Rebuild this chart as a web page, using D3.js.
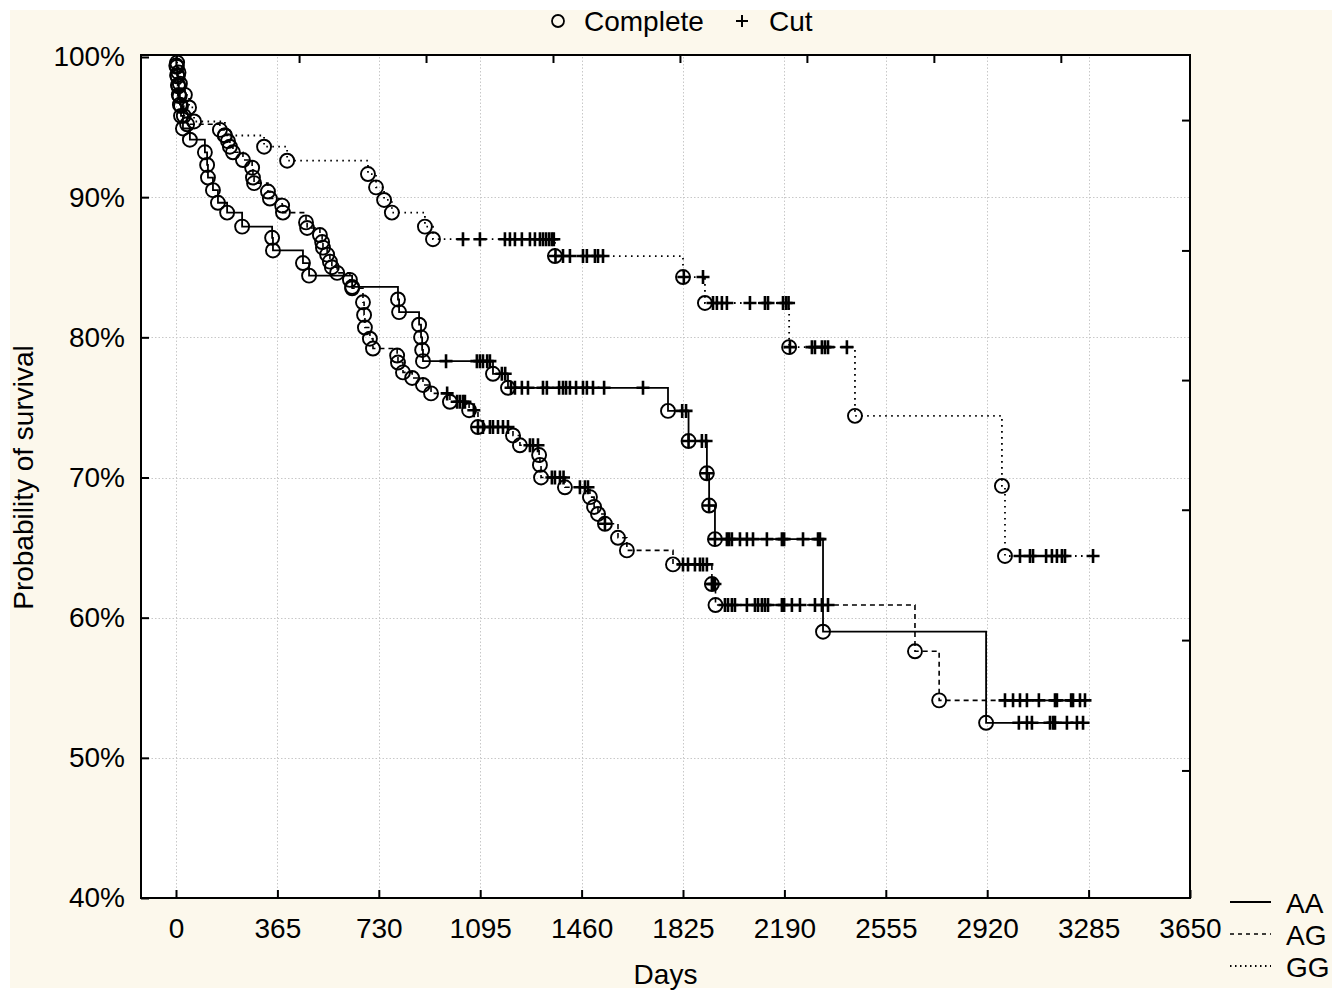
<!DOCTYPE html>
<html><head><meta charset="utf-8">
<script src="https://cdn.jsdelivr.net/npm/d3@7/dist/d3.min.js"></script>
<style>
html,body{margin:0;padding:0;background:#fff;}
text{font-family:"Liberation Sans",Arial,sans-serif;fill:#000;}
</style></head>
<body>
<svg id="chart" width="1342" height="990"></svg>
<script>
// ---------- data ----------
const seriesNames = ["AA","AG","GG"];
const xTicks = [0,365,730,1095,1460,1825,2190,2555,2920,3285,3650];
const yTicks = [40,50,60,70,80,90,100];
const topTickDays = [443,900,1357,1814,2271,2728,3185];
const rightTickPct = [95.5,86.2,76.95,67.7,58.4,49.1];

// events: [day, survival % after event]
const aaEvents = [[1,99.4],[4,98.7],[7,98.0],[10,97.3],[14,96.6],[18,95.8],[25,94.9],[50,94.1],
 [104,93.2],[112,92.3],[115,91.4],[133,90.5],[151,89.6],[184,88.9],[238,87.9],[346,87.1],[349,86.2],
 [457,85.3],[479,84.4],[634,83.6],[799,82.7],[803,81.8],[875,80.9],[882,80.0],[886,79.1],[889,78.3],
 [1141,77.4],[1195,76.4],[1771,74.75],[1845,72.6],[1911,70.3],[1919,68.0],[1940,65.6],[2329,59.0],[2916,52.5]];
const aaCensored = [972,1083,1094,1105,1120,1130,1173,1185,1206,1220,1245,1267,1321,1335,1379,1393,1404,1418,
 1440,1465,1479,1501,1541,1681,1822,1836,1845,1893,1908,1911,1919,1940,1983,1991,2001,2030,2055,2077,2127,2181,
 2189,2257,2311,2318,3034,3063,3081,3146,3157,3164,3207,3243,3265];

const agEvents = [[3,99.3],[6,98.6],[9,97.9],[13,97.2],[18,96.5],[28,95.8],[40,95.2],
 [158,94.8],[176,94.4],[187,94.0],[194,93.6],[205,93.2],[241,92.65],[274,92.1],[277,91.4],[281,91.0],
 [331,90.4],[338,89.9],[382,89.4],[385,88.9],[468,88.2],[472,87.8],[518,87.3],[526,86.8],[529,86.4],
 [544,85.9],[554,85.4],[561,85.0],[580,84.6],[626,84.1],[634,83.5],[673,82.5],[677,81.6],[680,80.7],
 [698,79.9],[709,79.2],[796,78.7],[799,78.2],[817,77.5],[850,77.1],[889,76.6],[918,76.0],
 [986,75.4],[1055,74.8],[1087,73.6],[1213,73.0],[1238,72.3],[1307,71.6],[1310,70.9],[1314,70.0],
 [1400,69.3],[1490,68.6],[1505,67.9],[1519,67.4],[1544,66.7],[1591,65.7],[1623,64.8],[1789,63.8],
 [1929,62.4],[1942,60.9],[2660,57.6],[2747,54.1]];
const agCensored = [976,1012,1022,1033,1040,1072,1087,1105,1130,1141,1159,1177,1195,1274,1285,1303,1353,1364,1382,1395,
 1454,1472,1483,1544,1825,1843,1868,1886,1897,1911,1929,1933,1940,1976,1987,2001,2012,2055,2084,2095,2109,2120,2131,
 2181,2189,2217,2246,2300,2325,2347,2984,3013,3038,3063,3106,3164,3171,3222,3229,3254,3272];

const ggEvents = [[4,99.6],[9,98.9],[14,98.1],[32,97.3],[47,96.4],[65,95.4],
 [176,94.4],[317,93.6],[400,92.6],[691,91.65],[720,90.7],[749,89.8],[777,88.9],[896,87.9],[925,87.0],
 [1364,85.8],[1825,84.3],[1904,82.45],[2207,79.3],[2444,74.4],[2973,69.4],[2984,64.4]];
const ggCensored = [1033,1094,1184,1202,1220,1245,1274,1292,1310,1321,1332,1343,1353,1360,1366,1393,1418,1465,1479,
 1508,1519,1537,1828,1897,1933,1947,1965,1983,2066,2120,2131,2185,2196,2205,2210,2289,2300,2325,2336,2347,2415,
 3038,3074,3085,3132,3153,3171,3189,3200,3301];

const legendTop = ["Complete","Cut"];
const xTitle = "Days", yTitle = "Probability of survival";

// ---------- layout ----------
const svg = d3.select("#chart");
const L = 141, R = 1190, T = 57, B = 898;
const x = d3.scaleLinear().domain([-126,3650]).range([L,R]);
const y = d3.scaleLinear().domain([40,100]).range([B,T]);
const FS = 28;

svg.append("rect").attr("x",10).attr("y",10).attr("width",1322).attr("height",978).attr("fill","#fcf8ec");
svg.append("rect").attr("x",L).attr("y",T-2).attr("width",R-L).attr("height",B-T+2).attr("fill","#fff");

// grid
const grid = svg.append("g").attr("stroke","#c8c8c8").attr("stroke-width",1).attr("stroke-dasharray","1.5,2");
grid.selectAll(".gv").data(xTicks.filter(d=>d<3650)).join("line")
  .attr("x1",d=>Math.round(x(d))+0.5).attr("x2",d=>Math.round(x(d))+0.5).attr("y1",T).attr("y2",B);
grid.selectAll(".gh").data(yTicks.filter(d=>d>40&&d<100)).join("line")
  .attr("y1",d=>Math.round(y(d))+0.5).attr("y2",d=>Math.round(y(d))+0.5).attr("x1",L).attr("x2",R);

// axes
const ax = svg.append("g").attr("transform",`translate(0,${B})`)
  .call(d3.axisBottom(x).tickValues(xTicks).tickSize(-8).tickPadding(20).tickFormat(d3.format("d")));
const ay = svg.append("g").attr("transform",`translate(${L},0)`)
  .call(d3.axisLeft(y).tickValues(yTicks).tickSize(-8).tickPadding(16).tickFormat(d=>d+"%"));
const at = svg.append("g").attr("transform",`translate(0,${T-2})`)
  .call(d3.axisTop(x).tickValues(topTickDays).tickSize(-8).tickFormat(""));
const ar = svg.append("g").attr("transform",`translate(${R},0)`)
  .call(d3.axisRight(y).tickValues(rightTickPct).tickSize(-8).tickFormat(""));
[ax,ay,at,ar].forEach(g=>{
  g.select(".domain").remove();
  g.selectAll(".tick line").attr("stroke","#000").attr("stroke-width",2);
  g.selectAll("text").attr("font-size",FS).attr("font-family","Liberation Sans, Arial, sans-serif").attr("fill","#000");
});
svg.append("rect").attr("x",L).attr("y",T-2).attr("width",R-L).attr("height",B-T+2)
  .attr("fill","none").attr("stroke","#000").attr("stroke-width",2);

// titles
svg.append("text").attr("x",(L+R)/2).attr("y",984).attr("text-anchor","middle").attr("font-size",FS).text(xTitle);
svg.append("text").attr("transform",`translate(33,${(T+B)/2}) rotate(-90)`).attr("text-anchor","middle").attr("font-size",FS).text(yTitle);

// curves
const styles = {AA:{dash:null,w:1.8},AG:{dash:"5,4",w:1.6},GG:{dash:"1.6,4.4",w:1.8}};
const all = [
  {name:"AA",ev:aaEvents,cs:aaCensored},
  {name:"AG",ev:agEvents,cs:agCensored},
  {name:"GG",ev:ggEvents,cs:ggCensored}];
const line = d3.line().x(d=>x(d[0])).y(d=>y(d[1])).curve(d3.curveStepAfter);
function levelAt(ev,t){let s=100;for(const e of ev){if(e[0]<=t)s=e[1];}return s;}

const gCurves = svg.append("g");
all.forEach(s=>{
  const last = s.ev[s.ev.length-1];
  const tEnd = Math.max(last[0], d3.max(s.cs));
  const pts = [[0,100],...s.ev,[tEnd,last[1]]];
  gCurves.append("path").attr("d",line(pts)).attr("fill","none").attr("stroke","#000")
    .attr("stroke-width",styles[s.name].w).attr("stroke-dasharray",styles[s.name].dash);
});
const gMarks = svg.append("g");
all.forEach(s=>{
  gMarks.selectAll(null).data(s.ev).join("circle")
    .attr("cx",d=>x(d[0])).attr("cy",d=>y(d[1])).attr("r",7)
    .attr("fill","none").attr("stroke","#000").attr("stroke-width",1.9);
  gMarks.selectAll(null).data(s.cs).join("path")
    .attr("transform",d=>`translate(${x(d)},${y(levelAt(s.ev,d))})`)
    .attr("d","M-6.5,0H6.5M0,-7V7").attr("stroke","#000").attr("stroke-width",2.6).attr("fill","none");
});

// top legend
const lg = svg.append("g");
lg.append("circle").attr("cx",558).attr("cy",21).attr("r",6).attr("fill","none").attr("stroke","#000").attr("stroke-width",1.8);
lg.append("text").attr("x",584).attr("y",31).attr("font-size",FS).text(legendTop[0]);
lg.append("path").attr("transform","translate(742,21)").attr("d","M-6,0H6M0,-6V6").attr("stroke","#000").attr("stroke-width",2);
lg.append("text").attr("x",769).attr("y",31).attr("font-size",FS).text(legendTop[1]);

// right legend
const rl = svg.append("g");
seriesNames.forEach((n,i)=>{
  const yy = 902 + i*32;
  rl.append("line").attr("x1",1230).attr("x2",1271).attr("y1",yy).attr("y2",yy)
    .attr("stroke","#000").attr("stroke-width",styles[n].w).attr("stroke-dasharray",
      n==="AA"?null:(n==="AG"?"4,4":"1.5,3.5"));
  rl.append("text").attr("x",1286).attr("y",yy+11).attr("font-size",FS).text(n);
});
</script>
</body></html>
